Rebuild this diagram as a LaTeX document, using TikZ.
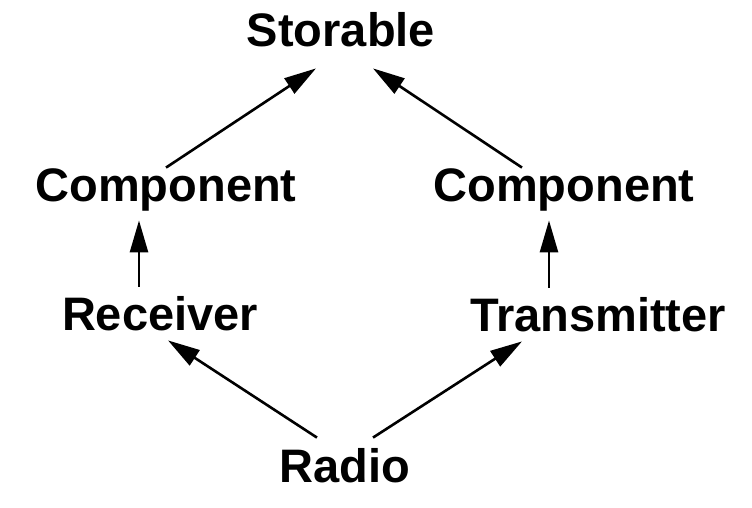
\documentclass[tikz,border=0pt]{standalone}
\usepackage{fontspec}
\setmainfont{Liberation Sans}
\usetikzlibrary{arrows.meta,calc}

\begin{document}
\begin{tikzpicture}
  [x=0.5pt,y=-0.5pt,
   every node/.style={font=\fontsize{23.5}{28}\selectfont\bfseries,inner sep=0pt,
     anchor=base,text height=17pt,text depth=4pt},
   arr/.style={-{Triangle[length=16pt,width=9pt]},line width=1.3pt}]
  \useasboundingbox (0,0) rectangle (752,508);
  \node (st) at (341,47)  {Storable};
  \node (cl) at (166,202) {Component};
  \node (cr) at (564,202) {Component};
  \node (rc) at (160,331) {Receiver};
  \node (tr) at (598,332) {Transmitter};
  \node (ra) at (345,483) {Radio};

  \draw[arr] (cl.north) -- ($(st.south)+(-25,13)$);
  \draw[arr] ($(cr.north)+(-42,0)$) -- ($(st.south)+(32,13)$);
  \draw[arr] ($(rc.north)+(-21,-10)$) -- ($(cl.south)+(-27,10)$);
  \draw[arr] ($(tr.north)+(-49,-10)$) -- ($(cr.south)+(-15,10)$);
  \draw[arr] ($(ra.north)+(-28,-11)$) -- ($(rc.south)+(8,1)$);
  \draw[arr] ($(ra.north)+(28,-11)$) -- ($(tr.south)+(-76,1)$);
\end{tikzpicture}
\end{document}
